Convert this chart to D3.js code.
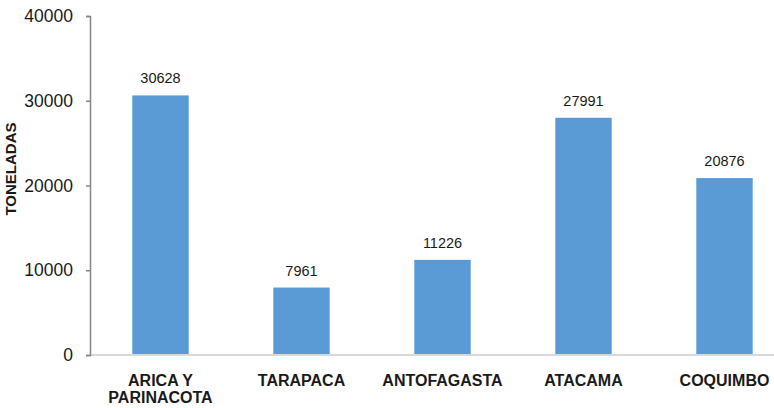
<!DOCTYPE html>
<html>
<head>
<meta charset="utf-8">
<script src="https://cdn.jsdelivr.net/npm/d3@7"></script>
<style>
  html, body { margin: 0; padding: 0; background: #fff; }
  svg { display: block; }
</style>
</head>
<body>
<svg id="chart" width="774" height="408"></svg>
<script>
const categories = [["ARICA Y", "PARINACOTA"], ["TARAPACA"], ["ANTOFAGASTA"], ["ATACAMA"], ["COQUIMBO"]];
const values = [30628, 7961, 11226, 27991, 20876];
const yTicks = [0, 10000, 20000, 30000, 40000];
const yTitle = "TONELADAS";

const svg = d3.select("#chart");
const keys = categories.map(c => c.join(" "));

const x = d3.scaleBand().domain(keys).range([90, 795]).paddingInner(0.6).paddingOuter(0.3);
const y = d3.scaleLinear().domain([0, 40000]).range([355, 16]);

// baseline
svg.append("line")
  .attr("x1", 90).attr("x2", 774)
  .attr("y1", y(0)).attr("y2", y(0))
  .attr("stroke", "#d9d9d9").attr("stroke-width", 2);

// bars
svg.append("g").selectAll("rect").data(values).join("rect")
  .attr("x", (d, i) => x(keys[i]))
  .attr("width", x.bandwidth())
  .attr("y", d => y(d))
  .attr("height", d => y(0) - y(d) - 1)
  .attr("fill", "#5b9bd5");

// value labels
svg.append("g").selectAll("text").data(values).join("text")
  .attr("x", (d, i) => x(keys[i]) + x.bandwidth() / 2)
  .attr("y", d => y(d) - 12)
  .attr("text-anchor", "middle")
  .attr("font-family", "Liberation Sans, Arial, sans-serif")
  .attr("font-size", 14.5)
  .attr("fill", "#1a1a1a")
  .text(d => d);

// y axis
const yAxis = d3.axisLeft(y).tickValues(yTicks).tickSize(4).tickPadding(13).tickFormat(d3.format("d"));
const gy = svg.append("g").attr("transform", "translate(90,0)").call(yAxis);
gy.select(".domain").attr("stroke", "#868686").attr("stroke-width", 1.5);
gy.selectAll(".tick line").attr("stroke", "#868686").attr("stroke-width", 1.5);
gy.selectAll(".tick text")
  .attr("font-family", "Liberation Sans, Arial, sans-serif")
  .attr("font-size", 17.5)
  .attr("fill", "#1a1a1a");

// category labels
const cg = svg.append("g");
categories.forEach((lines, i) => {
  const t = cg.append("text")
    .attr("x", x(keys[i]) + x.bandwidth() / 2)
    .attr("y", 386)
    .attr("text-anchor", "middle")
    .attr("font-family", "Liberation Sans, Arial, sans-serif")
    .attr("font-size", 16)
    .attr("font-weight", "bold")
    .attr("fill", "#1a1a1a");
  lines.forEach((ln, j) => {
    t.append("tspan")
      .attr("x", x(keys[i]) + x.bandwidth() / 2)
      .attr("dy", j === 0 ? 0 : 16.5)
      .text(ln);
  });
});

// y title
svg.append("text")
  .attr("transform", "translate(16,169) rotate(-90)")
  .attr("text-anchor", "middle")
  .attr("font-family", "Liberation Sans, Arial, sans-serif")
  .attr("font-size", 15)
  .attr("font-weight", "bold")
  .attr("fill", "#1a1a1a")
  .text(yTitle);
</script>
</body>
</html>
